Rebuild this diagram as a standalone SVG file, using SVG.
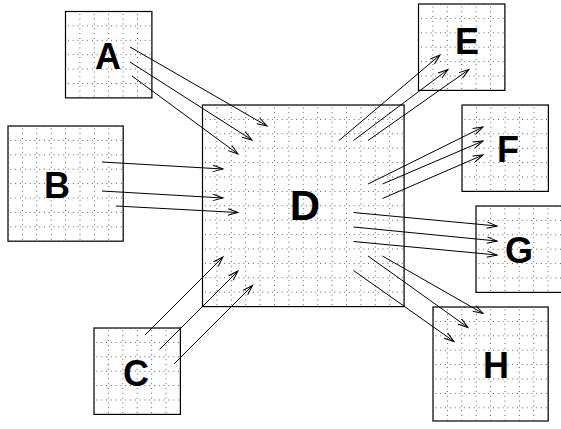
<svg xmlns="http://www.w3.org/2000/svg" width="561" height="429" viewBox="0 0 561 429">
<style>
.box{fill:url(#grid);stroke:#000;stroke-width:1.2}
.lbl{font-family:"Liberation Sans",Arial,sans-serif;font-weight:bold;font-size:36px;text-anchor:middle;fill:#000}
.cn line{stroke:#000;stroke-width:1;marker-end:url(#ah)}
</style>
<defs>
<pattern id="grid" patternUnits="userSpaceOnUse" x="-7.2" y="-7.2" width="14.4" height="14.4">
<path d="M0,7.2 H14.4" stroke="#555" stroke-width="1" stroke-dasharray="1 3.8"/>
<path d="M7.2,0 V14.4" stroke="#555" stroke-width="1" stroke-dasharray="1 3.8"/>
</pattern>
<marker id="ah" markerUnits="userSpaceOnUse" markerWidth="14" markerHeight="10" viewBox="-12 -5 14 10" refX="0" refY="0" orient="auto">
<path d="M-10,-3.2 L0,0 L-10,3.2" fill="none" stroke="#000" stroke-width="1"/>
</marker>
</defs>
<rect width="561" height="429" fill="#fff"/>
<g id="A"><g transform="translate(65.5,11.5)"><rect class="box" width="86.4" height="86.4"/></g><text class="lbl" x="108" y="69">A</text></g>
<g id="B"><g transform="translate(8,126)"><rect class="box" width="115.2" height="115.2"/></g><text class="lbl" x="57" y="198">B</text></g>
<g id="C"><g transform="translate(94,328)"><rect class="box" width="86.4" height="86.4"/></g><text class="lbl" x="136" y="386">C</text></g>
<g id="D"><g transform="translate(202.5,105)"><rect class="box" width="201.6" height="201.6"/></g><text class="lbl" x="305" y="220" style="font-size:42px">D</text></g>
<g id="E"><g transform="translate(418.5,4)"><rect class="box" width="86.4" height="86.4"/></g><text class="lbl" x="467" y="54">E</text></g>
<g id="F"><g transform="translate(462,105)"><rect class="box" width="86.4" height="86.4"/></g><text class="lbl" x="508" y="162">F</text></g>
<g id="G"><g transform="translate(476,206)"><rect class="box" width="86.4" height="86.4"/></g><text class="lbl" x="519" y="263">G</text></g>
<g id="H"><g transform="translate(433,307)"><rect class="box" width="115.2" height="114"/></g><text class="lbl" x="496" y="378">H</text></g>
<g id="connectors" class="cn">
<line x1="130" y1="47" x2="267" y2="126"/>
<line x1="130" y1="62" x2="252" y2="140"/>
<line x1="132" y1="76" x2="238" y2="154"/>
<line x1="102" y1="162" x2="223" y2="169"/>
<line x1="102" y1="191" x2="223" y2="198"/>
<line x1="116" y1="206" x2="238" y2="212.5"/>
<line x1="145" y1="335" x2="223" y2="257"/>
<line x1="159.5" y1="349.5" x2="238" y2="271"/>
<line x1="174" y1="364" x2="252.5" y2="285.5"/>
<line x1="339" y1="140.5" x2="440" y2="55"/>
<line x1="353.5" y1="140.5" x2="448" y2="69.5"/>
<line x1="368" y1="140.5" x2="469" y2="69.5"/>
<line x1="368" y1="184" x2="483" y2="127"/>
<line x1="382.5" y1="184" x2="483" y2="141"/>
<line x1="382.5" y1="198.5" x2="483" y2="155"/>
<line x1="353.5" y1="212.5" x2="497" y2="226"/>
<line x1="353.5" y1="227" x2="497" y2="241"/>
<line x1="353.5" y1="241.5" x2="497" y2="255"/>
<line x1="382.5" y1="256" x2="483" y2="313.5"/>
<line x1="368" y1="256" x2="468" y2="327.5"/>
<line x1="353.5" y1="270.5" x2="454" y2="341.5"/>
</g>
</svg>
